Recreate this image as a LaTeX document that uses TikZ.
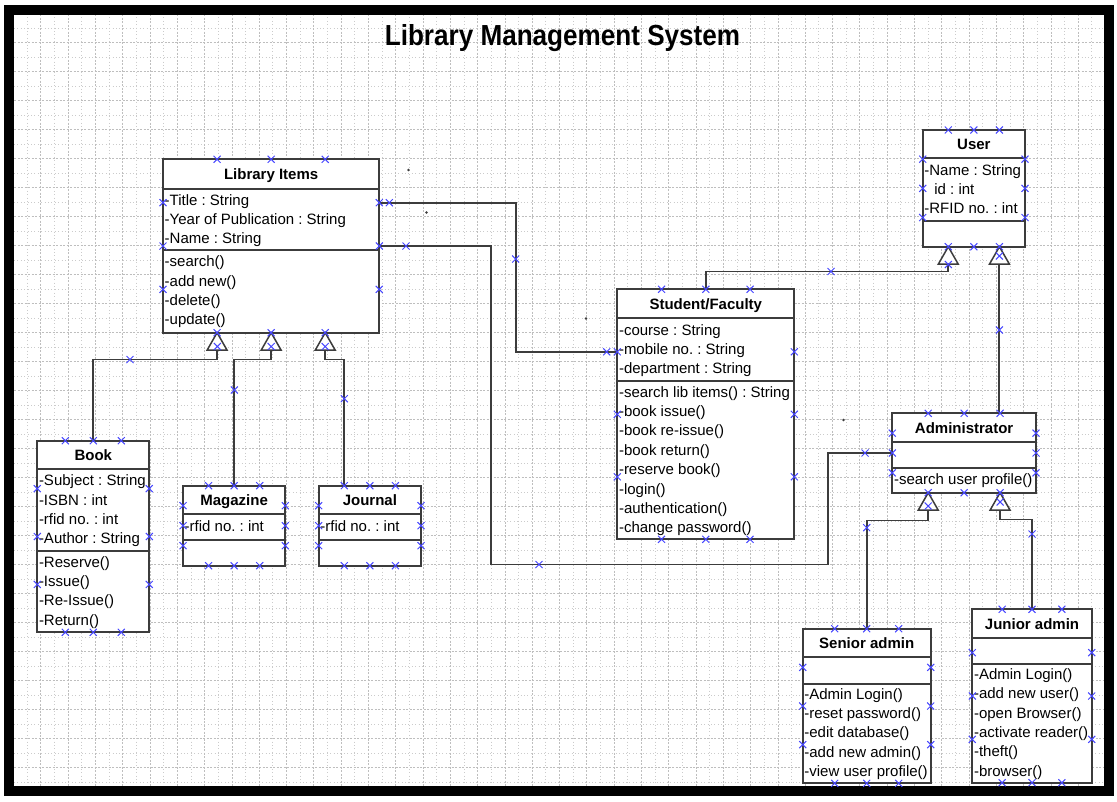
\documentclass[tikz,border=0pt]{standalone}
\usepackage{fontspec}
\setmainfont{Liberation Sans}
\frenchspacing
\pgfdeclarelayer{marks}
\pgfsetlayers{main,marks}
\definecolor{boxgray}{RGB}{60,60,60}
\definecolor{cpblue}{RGB}{70,70,255}
\definecolor{gridgray}{RGB}{190,190,190}
\tikzset{
  cls/.style={draw=boxgray,line width=1.9pt,fill=white,inner sep=0pt},
  sep/.style={boxgray,line width=1.9pt},
  ttl/.style={anchor=base,inner sep=0pt,font=\fontsize{15}{18}\selectfont\bfseries},
  row/.style={anchor=base west,inner sep=0pt,font=\fontsize{15}{18}\selectfont},
  conn/.style={boxgray,line width=1.9pt},
  gen/.style={boxgray,line width=1.5pt,fill=white},
  cp/.pic={\draw[cpblue,line width=1pt] (-3.5pt,-3.5pt) -- (3.5pt,3.5pt) (-3.5pt,3.5pt) -- (3.5pt,-3.5pt);},
  major/.style={gridgray,line width=0.6pt,dash pattern=on 2pt off 1.5pt},
  minor/.style={gridgray!80,line width=0.6pt,dash pattern=on 0.7pt off 2.7pt}
}
% class box: name, left, top, right, bottom, header line, divider, title
\newcommand\umlclass[8]{%
  \node[cls,minimum width={(#4-#2)*1pt},minimum height={(#5-#3)*1pt}] (#1) at ({(#2+#4)/2},{(#3+#5)/2}) {};
  \draw[sep] (#2,#6) -- (#4,#6) (#2,#7) -- (#4,#7);
  \node[ttl] (#1-name) at ({(#2+#4)/2},{(#3+#6)/2+5.5}) {#8};
  \foreach \f [count=\k] in {0.25,0.5,0.75}{
    \coordinate (#1-t\k) at ({#2+\f*(#4-#2)},#3);
    \coordinate (#1-b\k) at ({#2+\f*(#4-#2)},#5);
    \coordinate (#1-l\k) at (#2,{#3+\f*(#5-#3)});
    \coordinate (#1-r\k) at (#4,{#3+\f*(#5-#3)});
    \begin{pgfonlayer}{marks}
      \foreach \s in {t,b,l,r} \pic at (#1-\s\k) {cp};
    \end{pgfonlayer}
  }%
}
% one compartment: prefix, x, first baseline, lines
\newcommand\rows[4]{%
  \foreach \s [count=\k] in {#4} \node[row] (#1\k) at (#2,{#3+19.4*(\k-1)}) {\s};%
}
\begin{document}
\begin{tikzpicture}[x=1pt,y=-1pt,line join=miter]
\useasboundingbox (0,0) rectangle (1117,801);
\fill[white] (0,0) rectangle (1117,801);
% page grid
\begin{scope}
  \clip (14,14) rectangle (1104,786);
  \foreach \i in {0,...,40} \draw[minor] ({27.05+27.3*\i},14) -- ++(0,772);
  \foreach \j in {0,...,27} \draw[minor] (14,{28.2+29*\j}) -- ++(1090,0);
  \foreach \i in {0,...,40} \draw[major] ({13.4+27.3*\i},14) -- ++(0,772);
  \foreach \j in {0,...,27} \draw[major] (14,{13.7+29*\j}) -- ++(1090,0);
\end{scope}
\draw[line width=10pt] (9,9.5) rectangle (1109,791);

\node[font=\fontsize{29}{29}\selectfont\bfseries] (title) at (562.5,38) {\scalebox{0.9}[1]{Library Management System}};

\umlclass{lib}{163}{159.3}{379.3}{332.7}{188.7}{250}{Library Items}
\rows{lib-a}{164.5}{205}{-Title : String,-Year of Publication : String,-Name : String}
\rows{lib-m}{164.5}{266.7}{-search(),-add new(),-delete(),-update()}

\umlclass{book}{37.3}{440.7}{149.3}{632.3}{469.3}{551}{Book}
\rows{book-a}{38.8}{485.7}{-Subject : String,-ISBN : int,-rfid no. : int,-Author : String}
\rows{book-m}{38.8}{567}{-Reserve(),-Issue(),-Re-Issue(),-Return()}

\umlclass{mag}{183}{485.7}{285.3}{565.7}{514.3}{540}{Magazine}
\rows{mag-a}{184.5}{531}{-rfid no. : int}
\umlclass{jour}{318.7}{485.7}{421}{565.7}{514.3}{540}{Journal}
\rows{jour-a}{320.2}{531}{-rfid no. : int}

\umlclass{stud}{617.3}{289.3}{794.3}{539.3}{318.3}{380.7}{Student/Faculty}
\rows{stud-a}{618.8}{335}{-course : String,-mobile no. : String,-department : String}
\rows{stud-m}{618.8}{397}{-search lib items() : String,-book issue(),-book re-issue(),-book return(),-reserve book(),-login(),-authentication(),-change password()}

\umlclass{user}{922.7}{130}{1025}{246.7}{158.3}{220.7}{User}
\rows{user-a}{924.2}{175}{-Name : String,\hspace{10pt}id : int,-RFID no. : int}

\umlclass{adm}{892.3}{413.3}{1036}{492.7}{442.3}{467.7}{Administrator}
\rows{adm-m}{893.8}{484}{-search user profile()}

\umlclass{sen}{802.7}{628.7}{930.7}{783.3}{657.3}{684}{Senior admin}
\rows{sen-m}{804.2}{699}{-Admin Login(),-reset password(),-edit database(),-add new admin(),-view user profile()}

\umlclass{jun}{972.3}{609.3}{1091.7}{782.7}{638}{664}{Junior admin}
\rows{jun-m}{973.8}{679.3}{-Admin Login(),-add new user(),-open Browser(),-activate reader(),-theft(),-browser()}

% inheritance triangles
\foreach \a/\g in {lib-b1/g1,lib-b2/g2,lib-b3/g3,user-b1/g4,user-b3/g5,adm-b1/g6,adm-b3/g7}{
  \draw[gen] (\a) -- ++(-10,17.5) -- ++(20,0) -- cycle;
  \path (\a) ++(0,17.5) coordinate (\g);
}
\draw[conn] (book-t2) |- (g1 |- 0,359.5) -- (g1);
\draw[conn] (mag-t2) |- (g2 |- 0,359.5) -- (g2);
\draw[conn] (jour-t1) |- (g3 |- 0,359.5) -- (g3);
\draw[conn] (stud-t2) |- (g4 |- 0,271.5) -- (g4);
\draw[conn] (adm-t3 -| g5) -- (g5);
\draw[conn] (sen-t2) |- (g6 |- 0,520.5) -- (g6);
\draw[conn] (jun-t2) |- (g7 |- 0,519.5) -- (g7);

% associations
\draw[conn] (lib-r1) -| (515.7,0 |- stud-l1) -- (stud-l1);
\draw[conn] (lib-r2) -| (491,564.5) -| (828.3,0 |- adm-l2) -- (adm-l2);

\begin{pgfonlayer}{marks}
  \foreach \p in {{130,359.5},{234.3,390},{344.3,398.7},{389.3,202.7},{515.7,259},{606.7,351.8},{406,246},{539,564.5},{865,453},{831,271.5},{999.4,330},{866.7,527.7},{1032,534},
    {217.3,346.5},{271.2,346.5},{325.2,346.5},{948.3,264.5},{999.4,256},{928.2,506},{1000.1,502}}
    \pic at (\p) {cp};
\end{pgfonlayer}
\foreach \p in {{408.5,170},{426.5,212.5},{586,318.5},{843.5,420}} \fill[boxgray] (\p) circle (1.3);
\end{tikzpicture}
\end{document}
